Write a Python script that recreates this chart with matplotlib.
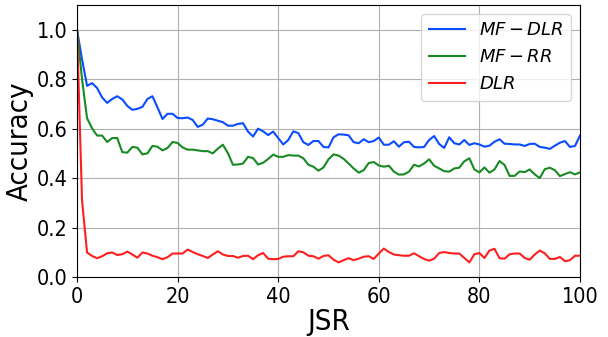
import numpy as np
import matplotlib.pyplot as plt

# JSR values 0..100
jsr = np.arange(0, 101)

mf_dlr = [1.0, 0.88, 0.773, 0.784, 0.764, 0.726, 0.704, 0.72, 0.731, 0.718,
          0.692, 0.676, 0.68, 0.688, 0.72, 0.731, 0.686, 0.639, 0.66, 0.66,
          0.643, 0.642, 0.645, 0.635, 0.607, 0.616, 0.641, 0.638, 0.632, 0.626,
          0.612, 0.612, 0.619, 0.622, 0.588, 0.568, 0.6, 0.589, 0.574, 0.588,
          0.562, 0.536, 0.554, 0.589, 0.582, 0.545, 0.534, 0.55, 0.55, 0.526,
          0.524, 0.565, 0.577, 0.576, 0.573, 0.545, 0.541, 0.557, 0.545, 0.55,
          0.564, 0.535, 0.535, 0.549, 0.527, 0.545, 0.547, 0.526, 0.524, 0.526,
          0.554, 0.57, 0.538, 0.522, 0.565, 0.541, 0.536, 0.554, 0.534, 0.541,
          0.536, 0.527, 0.531, 0.547, 0.557, 0.539, 0.538, 0.536, 0.536, 0.53,
          0.538, 0.539, 0.526, 0.523, 0.518, 0.531, 0.543, 0.55, 0.526, 0.53,
          0.572]

mf_rr = [1.0, 0.80, 0.642, 0.601, 0.572, 0.572, 0.546, 0.562, 0.562, 0.505,
         0.503, 0.526, 0.523, 0.496, 0.5, 0.53, 0.527, 0.512, 0.522, 0.546,
         0.542, 0.524, 0.515, 0.515, 0.512, 0.509, 0.509, 0.5, 0.519, 0.535,
         0.501, 0.454, 0.455, 0.459, 0.486, 0.481, 0.455, 0.462, 0.477, 0.495,
         0.486, 0.486, 0.493, 0.491, 0.491, 0.48, 0.454, 0.446, 0.43, 0.443,
         0.476, 0.496, 0.491, 0.478, 0.459, 0.439, 0.422, 0.432, 0.461, 0.465,
         0.451, 0.446, 0.45, 0.426, 0.414, 0.415, 0.426, 0.454, 0.447, 0.459,
         0.476, 0.45, 0.439, 0.428, 0.426, 0.439, 0.442, 0.468, 0.48, 0.435,
         0.423, 0.443, 0.422, 0.435, 0.469, 0.453, 0.409, 0.409, 0.427, 0.424,
         0.435, 0.415, 0.4, 0.436, 0.442, 0.432, 0.408, 0.416, 0.424, 0.415,
         0.423]

dlr = [1.0, 0.31, 0.099, 0.085, 0.076, 0.084, 0.096, 0.099, 0.089, 0.092,
       0.103, 0.091, 0.078, 0.099, 0.095, 0.086, 0.08, 0.072, 0.08, 0.095,
       0.095, 0.095, 0.111, 0.101, 0.092, 0.085, 0.077, 0.091, 0.104, 0.091,
       0.085, 0.085, 0.078, 0.085, 0.086, 0.072, 0.088, 0.097, 0.074, 0.072,
       0.073, 0.082, 0.084, 0.084, 0.104, 0.1, 0.086, 0.084, 0.074, 0.085,
       0.088, 0.07, 0.059, 0.068, 0.076, 0.068, 0.074, 0.082, 0.084, 0.073,
       0.095, 0.115, 0.101, 0.091, 0.088, 0.086, 0.086, 0.096, 0.084, 0.073,
       0.066, 0.074, 0.097, 0.101, 0.097, 0.095, 0.095, 0.077, 0.059, 0.092,
       0.097, 0.077, 0.107, 0.114, 0.076, 0.074, 0.092, 0.095, 0.095, 0.077,
       0.07, 0.091, 0.107, 0.096, 0.073, 0.073, 0.081, 0.064, 0.068, 0.086,
       0.086]

fig = plt.figure(figsize=(6.08, 3.37), dpi=100)
ax = fig.add_axes([77 / 608, 60 / 337, 503 / 608, 272 / 337])

ax.plot(jsr, mf_dlr, color='#0a4cff', lw=1.5, label=r'$MF-DLR$')
ax.plot(jsr, mf_rr, color='#178a22', lw=1.5, label=r'$MF-RR$')
ax.plot(jsr, dlr, color='#ff1f1f', lw=1.5, label=r'$DLR$')

ax.set_xlim(0, 100)
ax.set_ylim(0, 1.1)
ax.set_yticks([0, 0.2, 0.4, 0.6, 0.8, 1.0])
ax.grid(True, color='#b0b0b0', lw=0.8)
ax.tick_params(labelsize=15.5)
for lbl in ax.get_xticklabels() + ax.get_yticklabels():
    lbl.set_fontstretch('condensed')
ax.set_xlabel('JSR', fontsize=21, labelpad=1, fontstretch='condensed')
ax.set_ylabel('Accuracy', fontsize=21, labelpad=2, fontstretch='condensed')
ax.legend(loc='upper right', fontsize=13)

fig.savefig('out.png', dpi=100)
